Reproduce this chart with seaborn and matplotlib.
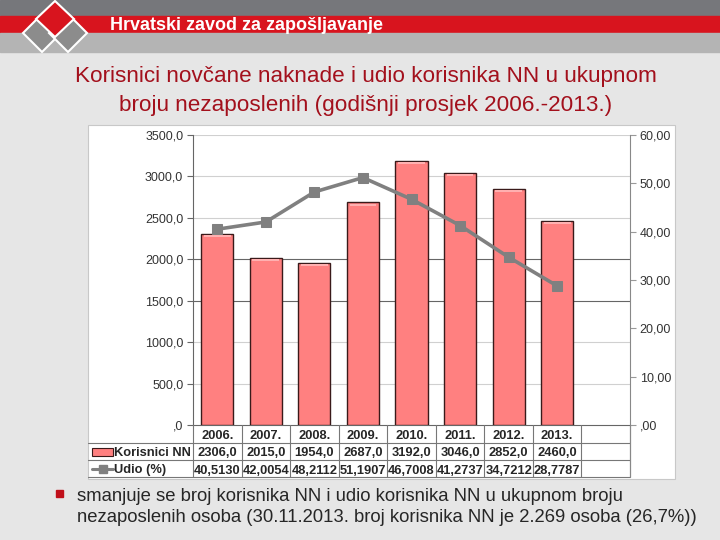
import numpy as np
import matplotlib
matplotlib.use("Agg")
import matplotlib.pyplot as plt
import matplotlib.transforms as mtransforms
from matplotlib.patches import Rectangle, Polygon
from matplotlib.lines import Line2D
import seaborn as sns

# Data
years = ['2006.', '2007.', '2008.', '2009.', '2010.', '2011.', '2012.', '2013.']
korisnici = [2306.0, 2015.0, 1954.0, 2687.0, 3192.0, 3046.0, 2852.0, 2460.0]
udio = [40.5130, 42.0054, 48.2112, 51.1907, 46.7008, 41.2737, 34.7212, 28.7787]

title = "Korisnici novčane naknade i udio korisnika NN u ukupnom\nbroju nezaposlenih (godišnji prosjek 2006.-2013.)"
header = "Hrvatski zavod za zapošljavanje"
note = ("smanjuje se broj korisnika NN i udio korisnika NN u ukupnom broju\n"
        "nezaposlenih osoba (30.11.2013. broj korisnika NN je 2.269 osoba (26,7%))")

sns.set_style("white")
plt.rcParams['font.family'] = ['Liberation Sans', 'DejaVu Sans']

W, H = 720, 540
fig = plt.figure(figsize=(7.2, 5.4), dpi=100, facecolor='#e6e6e6')


def fx(px):
    return px / W


def fy(py):
    return 1 - py / H


def frect(x0, y0, x1, y1, **kw):
    fig.patches.append(Rectangle((fx(x0), fy(y1)), fx(x1) - fx(x0), fy(y0) - fy(y1),
                                 transform=fig.transFigure, **kw))


# Slide header bands
frect(0, 0, 720, 16, color='#76777b', zorder=-2)
frect(0, 16, 720, 33, color='#d8141e', zorder=-2)
frect(0, 33, 720, 52, color='#b4b4b4', zorder=-2)

# Simple logo
for cx in (42, 68):
    pts = [(cx, 14), (cx + 19, 33), (cx, 52), (cx - 19, 33)]
    fig.patches.append(Polygon([(fx(a), fy(b)) for a, b in pts], closed=True,
                               transform=fig.transFigure, facecolor='#8c8c8c',
                               edgecolor='white', lw=1.5, zorder=1))
pts = [(55, 1), (74, 19), (55, 37), (36, 19)]
fig.patches.append(Polygon([(fx(a), fy(b)) for a, b in pts], closed=True,
                           transform=fig.transFigure, facecolor='#d8141e',
                           edgecolor='white', lw=1.5, zorder=2))
fig.text(fx(110), fy(25), header, color='white', fontsize=13, fontweight='bold',
         va='center', ha='left')

fig.text(fx(366), fy(91), title, color='#a3101c', fontsize=16.2, ha='center',
         va='center', linespacing=1.45)

# White chart panel
frect(88, 125, 675, 479, facecolor='white', edgecolor='#c8c8c8', lw=0.8, zorder=-1)

ax = fig.add_axes([fx(193), fy(425), fx(630) - fx(193), fy(135) - fy(425)])
ax.set_facecolor('none')

df_x = np.arange(len(years))
sns.barplot(x=df_x, y=korisnici, ax=ax, color='#ff8080', saturation=1,
            width=0.66, edgecolor='#3a1a1a', linewidth=1.0, native_scale=True, zorder=3)
# light top highlight on bars
for i, v in enumerate(korisnici):
    ax.bar(i, 25, bottom=v - 40, width=0.55, color='#ffb0b0', zorder=4, lw=0)

ax.set_xlim(-0.5, 8.5)
ax.set_ylim(0, 3500)
ax.set_yticks(np.arange(0, 3501, 500))
ax.set_yticklabels([',0' if v == 0 else f"{v:.1f}".replace('.', ',') for v in np.arange(0, 3501, 500)],
                   fontsize=9, color='#333333')
for v in range(500, 3501, 500):
    c = '#666666' if v in (1500, 2000) else '#d0d0d0'
    ax.axhline(v, color=c, lw=0.8, zorder=1)
ax.set_xticks([])
ax.set_xlabel('')
ax.tick_params(axis='y', length=4, color='#666666', pad=3, left=True)
ax.spines['top'].set_visible(False)
ax.spines['left'].set_color('#666666')
ax.spines['bottom'].set_color('#666666')
ax.spines['right'].set_visible(False)

ax2 = ax.twinx()
sns.lineplot(x=df_x, y=udio, ax=ax2, color='#808080', lw=2.6, marker='s',
             markersize=7, markeredgecolor='#808080', zorder=5)
ax2.set_ylim(0, 60)
ax2.set_xlim(-0.5, 8.5)
ax2.set_yticks(np.arange(0, 61, 10))
ax2.set_yticklabels([',00' if v == 0 else f"{v:.2f}".replace('.', ',') for v in np.arange(0, 61, 10)],
                    fontsize=9, color='#333333')
ax2.tick_params(axis='y', length=4, color='#999999', pad=3, right=True)
for s in ['top', 'left', 'bottom']:
    ax2.spines[s].set_visible(False)
ax2.spines['right'].set_color('#888888')
ax2.set_ylabel('')

# Data table under the plot
bt = mtransforms.blended_transform_factory(ax.transData, fig.transFigure)
row_y = [434.5, 452, 469]
for ly in [443, 460, 477]:
    fig.add_artist(Line2D([fx(88), fx(630)], [fy(ly), fy(ly)], transform=fig.transFigure,
                          color='#777777', lw=0.8))
for k in range(9):
    fig.add_artist(Line2D([k + 0.5, k + 0.5], [fy(425), fy(477)], transform=bt,
                          color='#777777', lw=0.8))
fig.add_artist(Line2D([-0.5, -0.5], [fy(425), fy(477)], transform=bt, color='#777777', lw=0.8))
fig.add_artist(Line2D([8.5, 8.5], [fy(425), fy(477)], transform=bt, color='#888888', lw=0.8))

for i, yr in enumerate(years):
    fig.text(i, fy(row_y[0]), yr, transform=bt, ha='center', va='center_baseline',
             fontsize=9.3, fontweight='bold')
    fig.text(i, fy(row_y[1]), f"{korisnici[i]:.1f}".replace('.', ','), transform=bt,
             ha='center', va='center_baseline', fontsize=9.3, fontweight='bold')
    fig.text(i, fy(row_y[2]), f"{udio[i]:.4f}".replace('.', ','), transform=bt,
             ha='center', va='center_baseline', fontsize=9.3, fontweight='bold')

frect(92, 448, 113, 456, facecolor='#ff8080', edgecolor='#3a1a1a', lw=0.8, zorder=3)
fig.add_artist(Line2D([fx(92), fx(113)], [fy(468.5), fy(468.5)], transform=fig.transFigure,
                      color='#808080', lw=2.2))
fig.add_artist(Line2D([fx(102.5)], [fy(468.5)], transform=fig.transFigure,
                      color='#808080', marker='s', markersize=5.5, lw=0))
fig.text(fx(114), fy(row_y[1]), 'Korisnici NN', ha='left', va='center_baseline',
         fontsize=9.3, fontweight='bold')
fig.text(fx(114), fy(row_y[2]), 'Udio (%)', ha='left', va='center_baseline',
         fontsize=9.3, fontweight='bold')

# Bullet note
frect(56, 490, 63, 497, color='#c0101a', zorder=3)
fig.text(fx(77), fy(507), note, ha='left', va='center', fontsize=13.3, linespacing=1.3)

fig.savefig('out.png', dpi=100, facecolor=fig.get_facecolor())
